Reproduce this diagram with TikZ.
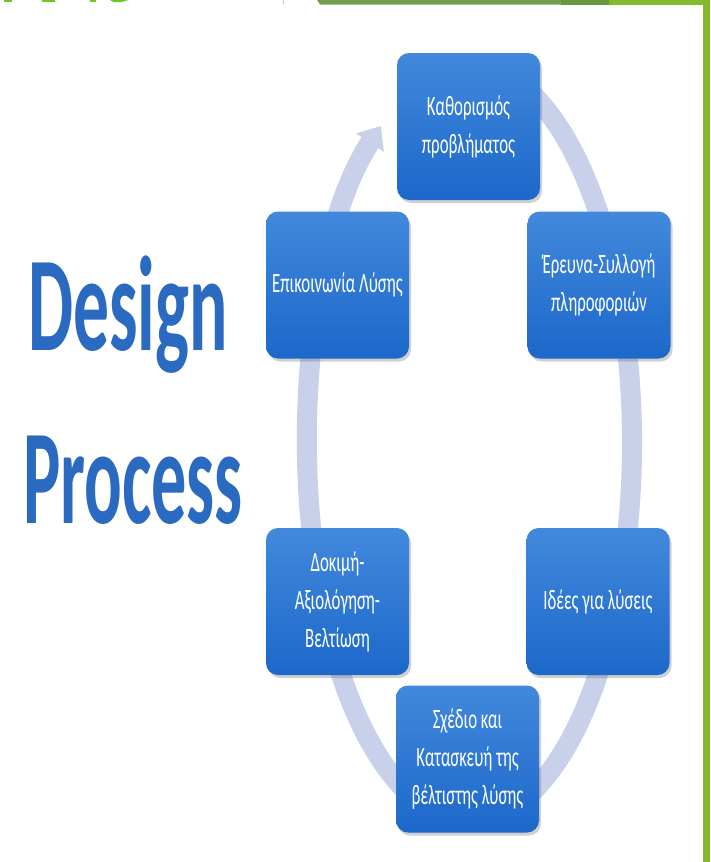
\documentclass[tikz,border=0pt]{standalone}
\usepackage{fontspec}
\setmainfont{Carlito}
\usepackage{graphicx}
\usetikzlibrary{arrows.meta,shadows}
\definecolor{ringc}{RGB}{200,208,234}
\definecolor{boxtop}{RGB}{66,137,220}
\definecolor{boxbot}{RGB}{28,104,202}
\definecolor{titleblue}{RGB}{42,106,192}
\definecolor{olivegreen}{RGB}{114,158,80}
\definecolor{darkolive}{RGB}{104,152,62}
\definecolor{brightgreen}{RGB}{134,186,46}
\tikzset{
  stage/.style={rounded corners=12pt, minimum width=143pt, minimum height=147pt,
    top color=boxtop, bottom color=boxbot, draw=none, text=white, inner sep=0pt,
    font=\fontsize{28}{38}\selectfont,
    drop shadow={shadow xshift=2pt, shadow yshift=-3pt, opacity=0.3, fill=black!60}},
  ringline/.style={line width=20pt, draw=ringc},
  titletext/.style={text=titleblue, font=\fontsize{135}{135}\selectfont\bfseries, inner sep=0pt, anchor=base}
}
\newcommand{\sqz}[1]{\scalebox{0.6}[1]{\begin{tabular}{@{}c@{}}#1\end{tabular}}}
\begin{document}
\begin{tikzpicture}[x=1pt,y=-1pt]
\useasboundingbox (0,0) rectangle (710,862);
\fill[white] (0,0) rectangle (710,862);
% green frame
\fill[olivegreen] (317,0) -- (561,0) -- (561,4.5) -- (320,4.5) -- cycle;
\fill[darkolive] (561,0) rectangle (609,4.5);
\fill[brightgreen] (609,0) rectangle (710,4.5);
\fill[brightgreen] (703,0) rectangle (710,862);
\fill[brightgreen!80!green] (4,0) rectangle (12,1.5);
\fill[brightgreen!80!green] (42,0) rectangle (55,1.5);
\fill[brightgreen!80!green] (90,0) rectangle (96,1.5);
\fill[brightgreen!80!green] (110,0) .. controls (112,3) and (122,3) .. (128,0) -- cycle;
\draw[gray!50, line width=0.8pt] (283,0) -- (283.5,4);
% ring
\coordinate (rc) at (469.5,443);
\draw[ringline, -{Triangle[width=32pt,length=20pt]}] (rc) ++(-110:162.5 and 378)
  arc[start angle=-110, end angle=237, x radius=162.5, y radius=378];
% title
\node[titletext] (t1) at (128,350) {\scalebox{0.53}[1]{Design}};
\node[titletext] (t2) at (133,523) {\scalebox{0.52}[1]{Process}};
% stages
\node[stage] (def) at (468.5,126.5) {\sqz{Καθορισμός\\προβλήματος}};
\node[stage] (res) at (599,285) {\sqz{Έρευνα-Συλλογή\\πληροφοριών}};
\node[stage] (ide) at (598,601.5) {\sqz{Ιδέες για λύσεις}};
\node[stage] (sch) at (467.5,759) {\sqz{Σχέδιο και\\Κατασκευή της\\βέλτιστης λύσης}};
\node[stage] (dok) at (337.5,601.5) {\sqz{Δοκιμή-\\Αξιολόγηση-\\Βελτίωση}};
\node[stage] (epi) at (337.5,285) {\sqz{Επικοινωνία Λύσης}};
\end{tikzpicture}
\end{document}
